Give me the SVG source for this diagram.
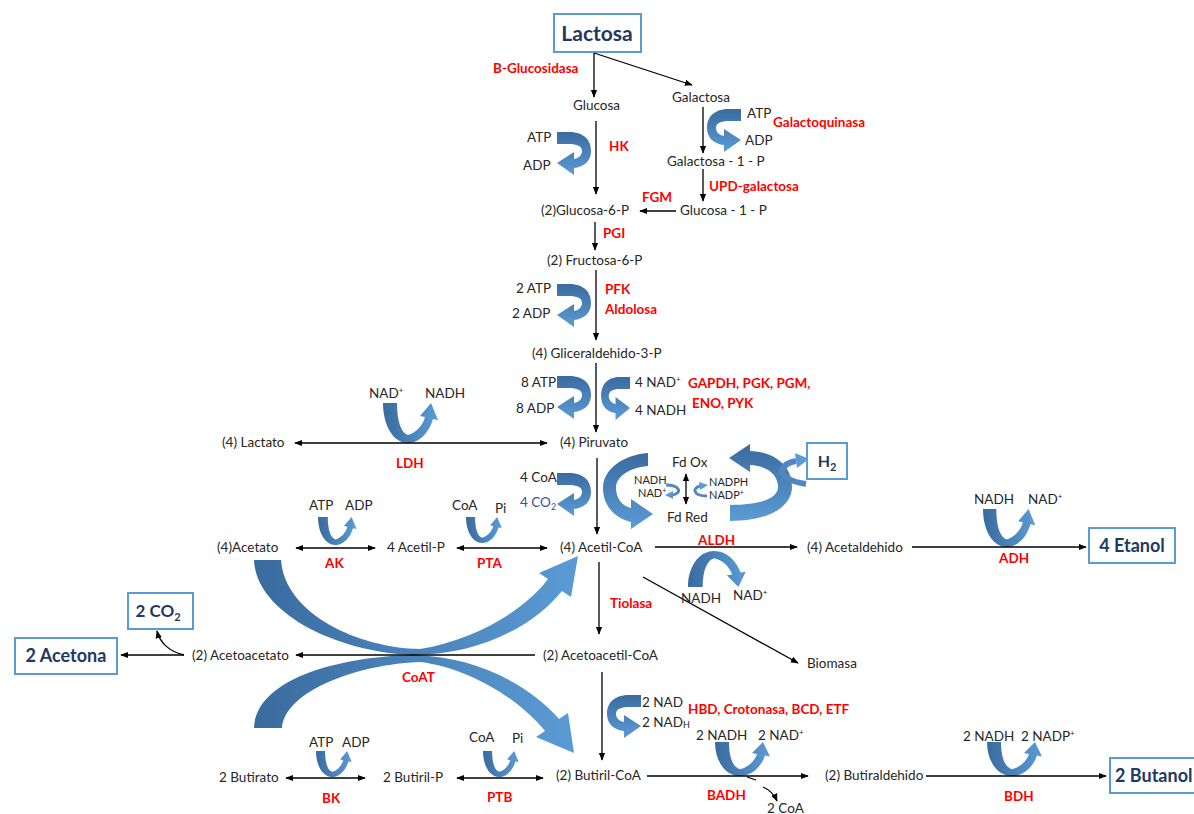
<svg xmlns="http://www.w3.org/2000/svg" width="1194" height="814" viewBox="0 0 1194 814">
<style>
  text { font-family: Lato, "Liberation Sans", sans-serif; }
  .t { font-size: 13.5px; fill: #262626; }
  .s { font-size: 11px; fill: #262626; }
  .e { font-size: 13.5px; font-weight: bold; fill: #ff0000; }
  .bx { fill: #ffffff; stroke: #5b9bd5; stroke-width: 2; }
  .bt { font-weight: bold; fill: #1f3864; }
  .ln { fill: none; stroke: #000; stroke-width: 1.3; }
  .one { marker-end: url(#ah); }
  .two { marker-start: url(#ah); marker-end: url(#ah); }
  .bandh { fill: url(#gh); }
  .bandv { fill: url(#gv); }
</style>
<defs>
  <marker id="ah" viewBox="0 0 10 10" refX="9" refY="5" markerWidth="8" markerHeight="8" markerUnits="userSpaceOnUse" orient="auto-start-reverse">
    <path d="M0,1 L10,5 L0,9 Z" fill="#000"/>
  </marker>
  <linearGradient id="gh" x1="0" y1="0" x2="1" y2="0">
    <stop offset="0" stop-color="#3a6b9f"/>
    <stop offset="1" stop-color="#5b9bd5"/>
  </linearGradient>
  <linearGradient id="gv" x1="0" y1="0" x2="0" y2="1">
    <stop offset="0" stop-color="#3a6b9f"/>
    <stop offset="1" stop-color="#5b9bd5"/>
  </linearGradient>
  <!-- hook-shaped cofactor arrow: enters at top-left, exits bottom-left -->
  <path id="hook" d="M0,0 H12 C28,0 34,9 34,19 C34,29 27,35 17,36 L17,43 L0,31 L17,20 L17,27 C22,26 25,23 25,19 C25,14 20,12 12,12 H0 Z"/>
  <!-- U-shaped cofactor arrow: enters at left arm, exits up the right arm -->
  <path id="uarr" d="M0,0 L14,0 C14,18 18,30 25,32 C33,30 40,22 42,14 L37,13 L48,0 L55,17 L50,16 C46,30 36,40 25,40 C10,40 0,22 0,0 Z"/>
</defs>

<rect width="1194" height="814" fill="#ffffff"/>

<!-- cofactor arrows (blue bands) -->
<g id="cofactor-arrows">
  <!-- CoA transferase crossing bands -->
  <path class="bandh" d="M254,560 C256,612 335,652 413,655 C480,655 535,625 562,591 L571,597 L578,556 L539,573 L548,579 C525,610 475,640 420,649 C360,648 285,615 281,560 Z"/>
  <path class="bandh" d="M254,728 C256,680 335,657 413,655 C475,656 530,685 559,719 L568,713 L574,753 L536,737 L545,731 C520,700 470,668 420,662 C360,664 285,690 282,728 Z"/>

  <!-- hooks on the main trunk -->
  <use href="#hook" class="bandv" transform="translate(557,132)"/>
  <use href="#hook" class="bandv" transform="translate(557,284)"/>
  <use href="#hook" class="bandv" transform="translate(557,376)"/>
  <use href="#hook" class="bandv" transform="translate(557,473)"/>
  <use href="#hook" class="bandv" transform="translate(741,109) scale(-1,1)"/>
  <use href="#hook" class="bandv" transform="translate(630,377) scale(-0.85,1)"/>
  <use href="#hook" class="bandv" transform="translate(641,695) scale(-1,1)"/>

  <!-- U arrows on side reactions -->
  <use href="#uarr" class="bandh" transform="translate(383,403)"/>
  <use href="#uarr" class="bandh" transform="translate(318,517) scale(0.7)"/>
  <use href="#uarr" class="bandh" transform="translate(466,517) scale(0.65)"/>
  <use href="#uarr" class="bandh" transform="translate(983,509) scale(0.95)"/>
  <use href="#uarr" class="bandh" transform="translate(316,751) scale(0.65)"/>
  <use href="#uarr" class="bandh" transform="translate(483,751) scale(0.65)"/>
  <use href="#uarr" class="bandh" transform="translate(715,742) scale(1,0.85)"/>
  <use href="#uarr" class="bandh" transform="translate(987,742) scale(1,0.85)"/>
  <use href="#uarr" class="bandh" transform="translate(688,587) scale(1.05,-0.9)"/>

  <!-- ferredoxin cycle -->
  <path class="bandv" d="M648,453 C622,455 603,470 603,488 C603,505 614,518 631,522 L631,529 L653,514 L631,499 L631,508 C622,506 616,498 616,488 C616,477 628,468 648,466 Z"/>
  <path class="bandv" d="M730,521 C770,521 792,506 792,487 C792,466 775,452 750,451 L750,444 L729,458 L750,472 L750,465 C768,466 778,475 778,487 C778,498 762,505 730,505 Z"/>
  <path d="M806,484 C792,482 780,476 782,470 C784,465 790,462 796,461" fill="none" stroke="#4f87c0" stroke-width="6"/>
  <path d="M795,453 L809,459 L797,468 Z" fill="#5b9bd5"/>
  <path d="M666,485 C681,485 682,494 672,495" fill="none" stroke="#4f87c0" stroke-width="3"/>
  <path d="M673,491 L665,495 L673,499 Z" fill="#5b9bd5"/>
  <path d="M707,496 C693,496 692,488 700,486" fill="none" stroke="#4f87c0" stroke-width="3"/>
  <path d="M699,482 L708,485 L700,490 Z" fill="#5b9bd5"/>
</g>

<!-- reaction connectors -->
<g id="connectors">
  <path class="ln one" d="M594,53 V97"/>
  <path class="ln one" d="M594,53 L692,85"/>
  <path class="ln one" d="M596,121 V194"/>
  <path class="ln one" d="M703,107 V153"/>
  <path class="ln one" d="M703,169 V201"/>
  <path class="ln one" d="M676,211 H640"/>
  <path class="ln one" d="M595,222 V250"/>
  <path class="ln one" d="M596,270 V340"/>
  <path class="ln one" d="M596,363 V432"/>
  <path class="ln two" d="M295,443 H547"/>
  <path class="ln one" d="M597,458 V534"/>
  <path class="ln two" d="M686,474 V504"/>
  <path class="ln two" d="M296,548 H375"/>
  <path class="ln two" d="M457,548 H547"/>
  <path class="ln one" d="M655,547 H797"/>
  <path class="ln one" d="M912,547 H1086"/>
  <path class="ln one" d="M599,562 V634"/>
  <path class="ln one" d="M643,577 L798,663"/>
  <path class="ln one" d="M535,655 H296"/>
  <path class="ln one" d="M184,655 H121"/>
  <path class="ln one" d="M184,655 C170,652 160,643 157,631"/>
  <path class="ln one" d="M602,672 V760"/>
  <path class="ln two" d="M286,778 H365"/>
  <path class="ln two" d="M457,778 H543"/>
  <path class="ln one" d="M647,776 H808"/>
  <path class="ln one" d="M926,776 H1106"/>
  <path class="ln" d="M747,777 L756,780"/>
  <path class="ln one" d="M763,787 C770,790 774,794 777,801"/>
</g>

<!-- boxed end products -->
<g id="lactosa"><rect class="bx" x="554" y="14" width="87" height="38"/><text class="bt" x="597" y="41" font-size="21" text-anchor="middle">Lactosa</text></g>
<g id="h2"><rect class="bx" x="807" y="443" width="40" height="36"/><text class="bt" x="827" y="467" font-size="16" text-anchor="middle">H<tspan font-size="11" dy="4">2</tspan></text></g>
<g id="etanol"><rect class="bx" x="1089" y="528" width="86" height="35"/><text class="bt" x="1132" y="552" font-size="18" text-anchor="middle">4 Etanol</text></g>
<g id="co2"><rect class="bx" x="128" y="593" width="65" height="36"/><text class="bt" x="158" y="617" font-size="17" text-anchor="middle">2 CO<tspan font-size="11" dy="4">2</tspan></text></g>
<g id="acetona"><rect class="bx" x="15" y="638" width="102" height="36"/><text class="bt" x="66" y="662" font-size="18" text-anchor="middle">2 Acetona</text></g>
<g id="butanol"><rect class="bx" x="1110" y="758" width="92" height="35"/><text class="bt" x="1115" y="782" font-size="18">2 Butanol</text></g>

<!-- metabolites -->
<g id="glucosa"><text class="t" x="573" y="110">Glucosa</text></g>
<g id="galactosa"><text class="t" x="672" y="102">Galactosa</text></g>
<g id="galactosa-1-p"><text class="t" x="667" y="166">Galactosa - 1 - P</text></g>
<g id="glucosa-1-p"><text class="t" x="680" y="215">Glucosa - 1 - P</text></g>
<g id="glucosa-6-p"><text class="t" x="541" y="215">(2)Glucosa-6-P</text></g>
<g id="fructosa-6-p"><text class="t" x="547" y="265">(2) Fructosa-6-P</text></g>
<g id="gliceraldehido-3-p"><text class="t" x="532" y="358">(4) Gliceraldehido-3-P</text></g>
<g id="lactato"><text class="t" x="222" y="447">(4) Lactato</text></g>
<g id="piruvato"><text class="t" x="560" y="447">(4) Piruvato</text></g>
<g id="acetato"><text class="t" x="217" y="552">(4)Acetato</text></g>
<g id="acetil-p"><text class="t" x="387" y="552">4 Acetil-P</text></g>
<g id="acetil-coa"><text class="t" x="560" y="552">(4) Acetil-CoA</text></g>
<g id="acetaldehido"><text class="t" x="807" y="552">(4) Acetaldehido</text></g>
<g id="biomasa"><text class="t" x="807" y="668">Biomasa</text></g>
<g id="acetoacetil-coa"><text class="t" x="543" y="660">(2) Acetoacetil-CoA</text></g>
<g id="acetoacetato"><text class="t" x="192" y="660">(2) Acetoacetato</text></g>
<g id="butirato"><text class="t" x="219" y="782">2 Butirato</text></g>
<g id="butiril-p"><text class="t" x="383" y="782">2 Butiril-P</text></g>
<g id="butiril-coa"><text class="t" x="556" y="780">(2) Butiril-CoA</text></g>
<g id="butiraldehido"><text class="t" x="825" y="780">(2) Butiraldehido</text></g>

<!-- cofactors -->
<g id="cofactor-labels">
  <text class="t" x="527" y="142">ATP</text>
  <text class="t" x="523" y="170">ADP</text>
  <text class="t" x="747" y="118">ATP</text>
  <text class="t" x="745" y="145">ADP</text>
  <text class="t" x="516" y="293">2 ATP</text>
  <text class="t" x="512" y="318">2 ADP</text>
  <text class="t" x="521" y="387">8 ATP</text>
  <text class="t" x="516" y="413">8 ADP</text>
  <text class="t" x="635" y="387">4 NAD<tspan font-size="8" dy="-5">+</tspan></text>
  <text class="t" x="635" y="415">4 NADH</text>
  <text class="t" x="369" y="398">NAD<tspan font-size="8" dy="-5">+</tspan></text>
  <text class="t" x="425" y="398">NADH</text>
  <text class="t" x="520" y="482">4 CoA</text>
  <text class="t" x="520" y="507" style="fill:#2f5597">4 CO<tspan font-size="9" dy="3">2</tspan></text>
  <text class="t" x="672" y="467">Fd Ox</text>
  <text class="s" x="634" y="484">NADH</text>
  <text class="s" x="638" y="497">NAD<tspan font-size="7" dy="-4">+</tspan></text>
  <text class="s" x="709" y="486">NADPH</text>
  <text class="s" x="709" y="499">NADP<tspan font-size="7" dy="-4">+</tspan></text>
  <text class="t" x="667" y="522">Fd Red</text>
  <text class="t" x="309" y="510">ATP</text>
  <text class="t" x="345" y="510">ADP</text>
  <text class="t" x="452" y="510">CoA</text>
  <text class="t" x="495" y="513">Pi</text>
  <text class="t" x="974" y="504">NADH</text>
  <text class="t" x="1028" y="504">NAD<tspan font-size="8" dy="-5">+</tspan></text>
  <text class="t" x="681" y="603">NADH</text>
  <text class="t" x="733" y="600">NAD<tspan font-size="8" dy="-5">+</tspan></text>
  <text class="t" x="642" y="707">2 NAD</text>
  <text class="t" x="642" y="727">2 NAD<tspan font-size="9" dy="1">H</tspan></text>
  <text class="t" x="696" y="740">2 NADH</text>
  <text class="t" x="758" y="740">2 NAD<tspan font-size="8" dy="-5">+</tspan></text>
  <text class="t" x="309" y="747">ATP</text>
  <text class="t" x="342" y="747">ADP</text>
  <text class="t" x="469" y="742">CoA</text>
  <text class="t" x="512" y="743">Pi</text>
  <text class="t" x="767" y="813">2 CoA</text>
  <text class="t" x="963" y="741">2 NADH</text>
  <text class="t" x="1021" y="741">2 NADP<tspan font-size="8" dy="-5">+</tspan></text>
</g>

<!-- enzymes -->
<g id="enzymes">
  <text class="e" x="493" y="73">B-Glucosidasa</text>
  <text class="e" x="609" y="151">HK</text>
  <text class="e" x="773" y="127">Galactoquinasa</text>
  <text class="e" x="709" y="191">UPD-galactosa</text>
  <text class="e" x="642" y="202">FGM</text>
  <text class="e" x="603" y="238">PGI</text>
  <text class="e" x="605" y="294">PFK</text>
  <text class="e" x="605" y="314">Aldolosa</text>
  <text class="e" x="688" y="388">GAPDH, PGK, PGM,</text>
  <text class="e" x="692" y="408">ENO, PYK</text>
  <text class="e" x="396" y="468">LDH</text>
  <text class="e" x="325" y="568">AK</text>
  <text class="e" x="477" y="568">PTA</text>
  <text class="e" x="698" y="545">ALDH</text>
  <text class="e" x="999" y="563">ADH</text>
  <text class="e" x="610" y="608">Tiolasa</text>
  <text class="e" x="402" y="682">CoAT</text>
  <text class="e" x="688" y="714">HBD, Crotonasa,  BCD, ETF</text>
  <text class="e" x="322" y="803">BK</text>
  <text class="e" x="487" y="802">PTB</text>
  <text class="e" x="707" y="800">BADH</text>
  <text class="e" x="1004" y="801">BDH</text>
</g>
</svg>
